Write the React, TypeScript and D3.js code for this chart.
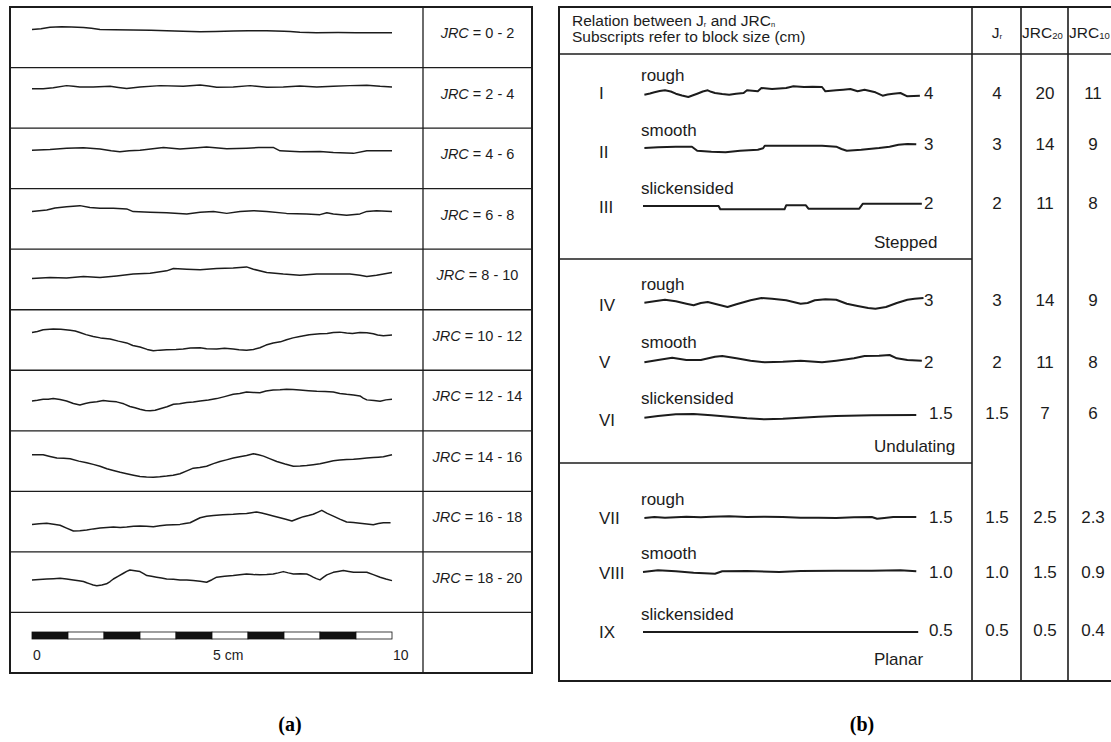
import React from "react";
import * as d3 from "d3";

// ---------- DATA ----------
// (a) Barton's standard JRC profiles: [distance along profile (mm), height (mm)]
const JRC_RANGES = ["0 - 2", "2 - 4", "4 - 6", "6 - 8", "8 - 10", "10 - 12", "12 - 14", "14 - 16", "16 - 18", "18 - 20"];

const P_0_2: [number, number][] = [[0,1.0],[2.5,1.2],[5,1.6],[8.2,1.75],[11,1.7],[14.3,1.5],[16.5,1.3],[18.9,1.0],[23,0.9],[28.1,0.8],[33,0.75],[37.4,0.65],[42,0.5],[46.7,0.35],[51,0.45],[55.9,0.55],[60,0.6],[65.2,0.65],[70,0.5],[71.7,0.4],[74.4,0.2],[79,0.1],[85,0.15],[90,0.1],[93,0.1],[100,0.1]];
const P_2_4: [number, number][] = [[0,1.3],[3.1,1.3],[5.9,1.6],[9.6,2.2],[11.5,2.05],[13.3,1.85],[17,1.85],[21.7,2.0],[24,1.7],[26.3,1.4],[30,1.85],[35.6,2.2],[42,2.0],[46.7,2.4],[49,2.1],[51.3,1.75],[55.9,1.85],[60.6,2.2],[65.2,1.75],[69.8,1.85],[74.4,2.1],[79.1,1.85],[83.7,2.0],[88.3,2.2],[93,2.3],[96.7,2.0],[100,1.85]];
const P_4_6: [number, number][] = [[0,1.1],[5,1.3],[9.6,1.6],[14.3,1.75],[18.9,1.4],[22,0.9],[24.4,0.65],[27,0.9],[30,1.1],[36.5,1.85],[41.1,1.4],[45,1.7],[48.5,2.0],[54.1,1.5],[59.6,1.65],[63,1.8],[67,1.85],[68.9,0.9],[74.4,0.65],[80,0.75],[83.7,0.45],[89.3,0.2],[93,0.9],[100,0.9]];
const P_6_8: [number, number][] = [[0,0.9],[4.1,1.3],[6.4,1.85],[9.6,2.2],[13.3,2.5],[16.1,2.0],[18.9,1.75],[22.6,1.75],[26.3,1.6],[28.1,0.85],[32.8,0.65],[37.4,0.55],[43,0.2],[46.7,0.65],[50.4,0.9],[54.1,0.35],[57.8,0.9],[61.5,1.1],[65.2,0.85],[70.7,0.35],[76.3,0.2],[80,0],[81.9,0.55],[83.7,0.2],[87.4,-0.2],[91.1,0.2],[93,0.9],[95.7,1.1],[100,0.9]];
const P_8_10: [number, number][] = [[0,-0.9],[5,-0.65],[9.6,-0.75],[14.3,-0.35],[18.9,-0.65],[23.5,-0.2],[28.1,0.3],[32.8,0.55],[37.4,1.2],[39.3,1.85],[43,1.65],[46.7,1.5],[51.3,1.85],[55.9,2.0],[59.6,2.3],[61.5,1.65],[65.2,0.75],[69.8,0.3],[74.4,0],[79.1,0.3],[83.7,0.3],[88.3,0.35],[91.1,0],[93,-0.35],[95.7,0],[100,0.75]];
const P_10_12: [number, number][] = [[0,0.9],[1.5,1.2],[3.1,1.65],[5.9,1.85],[8,1.8],[10.6,1.5],[12,1.3],[13.3,0.9],[15,0.3],[17,-0.2],[19,-0.6],[21.7,-0.9],[24,-1.5],[26.3,-2.0],[28,-2.7],[30,-3.15],[32,-3.8],[33.7,-4.15],[35.5,-4.0],[37.4,-3.9],[40,-3.85],[42,-3.7],[44,-3.4],[46.7,-3.35],[48.5,-3.6],[51.3,-3.7],[53.5,-3.5],[55.9,-3.7],[57.5,-3.9],[59.6,-4.05],[61.5,-3.8],[63.3,-3.35],[65,-2.6],[67,-2.0],[69,-1.7],[70.7,-1.1],[72.5,-0.6],[74.4,-0.2],[77,0.3],[80,0.55],[82,0.6],[83.7,0.9],[85.5,1.0],[87.4,0.75],[89,0.6],[91.1,0.9],[93,0.85],[94.8,0.55],[96,0.2],[97.6,0],[100,0.2]];
const P_12_14: [number, number][] = [[0,-1.3],[1.5,-1.1],[3.1,-0.85],[4.5,-0.8],[5.9,-0.65],[7.8,-0.9],[9.6,-1.3],[11.5,-2.0],[13.3,-2.4],[14.8,-2.0],[16.1,-1.75],[18,-1.5],[19.8,-1.2],[21.5,-1.35],[23.5,-1.55],[25.5,-2.1],[27.2,-2.85],[28.6,-3.2],[30,-3.6],[31.5,-3.95],[32.8,-4.05],[34.2,-3.9],[35.6,-3.45],[37.5,-2.9],[39.3,-2.2],[41,-2.1],[43,-1.75],[44.8,-1.6],[46.7,-1.3],[49,-1.05],[51.3,-0.65],[53.5,-0.1],[55.9,0.55],[57.7,0.8],[59.6,1.2],[61.5,1.05],[63.3,1.0],[65,1.45],[67,1.75],[68.9,1.8],[70.7,1.95],[72.5,1.85],[74.4,1.75],[76.8,1.55],[79.1,1.4],[81.4,1.35],[83.7,1.2],[85.5,0.8],[87.4,0.55],[89.3,0.35],[91.1,0.1],[92,-0.5],[93,-1.0],[95,-1.2],[96.7,-1.4],[98.3,-1.0],[100,-0.85]];
const P_14_16: [number, number][] = [[0,0.55],[1.6,0.6],[3.1,0.55],[5,0.1],[6.9,-0.35],[8.8,-0.4],[10.6,-0.55],[13,-1.2],[15.2,-1.65],[17,-2.1],[18.9,-2.6],[20.8,-3.3],[22.6,-3.8],[24.5,-4.3],[26.3,-4.7],[28.2,-5.1],[30,-5.45],[31.8,-5.6],[33.7,-5.65],[35.5,-5.55],[37.4,-5.35],[39.2,-5.1],[41.1,-4.7],[43,-3.9],[44.8,-3.15],[46.6,-2.95],[48.5,-2.6],[50.4,-1.9],[52.2,-1.3],[54,-0.85],[55.9,-0.35],[57.7,0],[59.6,0.35],[61.5,0.85],[62.9,0.6],[64.3,0.2],[66,-0.5],[68,-1.3],[70.3,-2.0],[72.6,-2.6],[74.5,-2.55],[76.3,-2.4],[78.1,-2.2],[80,-1.95],[81.9,-1.5],[83.7,-1.1],[85.5,-0.9],[87.4,-0.75],[89.3,-0.7],[91.1,-0.55],[93,-0.35],[94.8,-0.2],[96.2,-0.1],[97.6,0],[100,0.55]];
const P_16_18: [number, number][] = [[0,-1.95],[2,-1.8],[4.1,-1.65],[6,-1.9],[7.8,-2.2],[9.6,-3.0],[11.5,-3.8],[13.3,-3.7],[15.2,-3.5],[17,-3.2],[18.9,-2.95],[20.8,-2.8],[22.6,-2.7],[24.5,-2.8],[26.3,-2.7],[28.2,-2.5],[30,-2.4],[31.8,-2.45],[33.7,-2.6],[35.5,-2.35],[37.4,-2.15],[39.3,-2.05],[41.1,-1.95],[42.5,-1.7],[43.9,-1.5],[45.3,-0.8],[46.7,-0.1],[48.5,0.3],[50.4,0.55],[53,0.7],[55.9,0.85],[57.7,1.0],[59.6,1.1],[61,1.3],[62.4,1.5],[63.8,1.2],[65.2,0.85],[67,0.4],[68.9,-0.1],[70.5,-0.55],[72.2,-1.0],[73.8,-0.4],[75.4,0.2],[76.8,0.5],[78.1,0.85],[79.3,1.4],[80.5,1.95],[82,1.1],[83.7,0.35],[85.5,-0.5],[87.4,-1.3],[89.3,-1.45],[91.1,-1.65],[93,-1.85],[94.8,-2.05],[96.2,-1.7],[97.6,-1.5],[99.6,-1.5]];
const P_18_20: [number, number][] = [[0,-0.55],[2,-0.45],[4.1,-0.3],[6,-0.2],[7.8,-0.1],[9.6,-0.3],[11.5,-0.55],[13,-0.8],[14.3,-1.0],[15.2,-1.35],[16.1,-1.65],[17,-1.95],[18,-2.15],[19.4,-1.95],[20.7,-1.65],[21.7,-1.0],[22.6,-0.3],[24,0.5],[25.4,1.3],[26.3,1.8],[27.2,2.2],[28.6,2.0],[30,1.75],[31,1.2],[31.9,0.65],[33.2,0.45],[34.6,0.2],[36,-0.05],[37.4,-0.3],[39.3,-0.4],[41.1,-0.55],[43,-0.6],[44.8,-0.75],[46.7,-0.9],[48.5,-1.2],[50,-0.5],[51.3,0.2],[53.5,0.45],[55.9,0.65],[57.7,0.85],[59.6,1.1],[61.5,0.95],[63.3,0.85],[65.2,0.95],[67,1.1],[68.4,1.4],[69.8,1.75],[71.2,1.4],[72.6,1.1],[74.5,1.15],[76.3,1.1],[77.2,0.7],[78.1,0.2],[79,-0.2],[80,-0.55],[81,0.2],[81.9,0.85],[82.8,1.2],[83.7,1.55],[85,1.8],[86.5,2.05],[88,1.8],[89.3,1.55],[91.1,1.6],[93,1.55],[94.8,0.9],[96.7,0.2],[98.3,-0.3],[100,-0.75]];
const JRC_PROFILES = [P_0_2, P_2_4, P_4_6, P_6_8, P_8_10, P_10_12, P_12_14, P_14_16, P_16_18, P_18_20];

const SCALE_SEGMENTS = [0, 1, 2, 3, 4, 5, 6, 7, 8, 9]; // cm
const SCALE_TICKS = [0, 5, 10];
const SCALE_TICK_LABELS = ["0", "5 cm", "10"];

// (b) Jr vs JRC table
const CLASSES = ["I", "II", "III", "IV", "V", "VI", "VII", "VIII", "IX"];
const SURFACES = ["rough", "smooth", "slickensided", "rough", "smooth", "slickensided", "rough", "smooth", "slickensided"];
const JR = ["4", "3", "2", "3", "2", "1.5", "1.5", "1.0", "0.5"];
const JRC20 = ["20", "14", "11", "14", "11", "7", "2.5", "1.5", "0.5"];
const JRC10 = ["11", "9", "8", "9", "8", "6", "2.3", "0.9", "0.4"];
const GROUPS = ["Stepped", "Undulating", "Planar"];

const R_I: [number, number][] = [[0.5,-1.7],[2.5,-0.5],[4.1,0.7],[6,2.0],[7.9,2.7],[10,1.5],[11.8,-0.7],[14,-2.5],[16.3,-4.0],[18,-2.3],[19.5,-0.7],[21.5,1.5],[23.3,2.7],[24.5,1.2],[25.9,0],[28.5,-1.0],[31,-1.7],[33.5,-0.7],[36.2,0],[37.4,2.7],[41.3,1.7],[42.6,5.0],[46.4,4.0],[49,4.5],[51.5,5.0],[54.1,6.7],[57.9,6.0],[61,6.3],[64.4,6.0],[65.6,1.7],[69.5,2.7],[72,3.3],[74.6,4.0],[77.2,1.7],[79.7,3.3],[83.6,0.7],[86.2,-2.7],[88,-1.5],[90,-0.7],[92.6,0],[95.1,-3.3],[99.6,-2.7]];
const R_II: [number, number][] = [[0.5,0],[5.4,0.7],[11.8,1.3],[17.6,1.3],[19.5,-2.7],[24.6,-3.7],[29.7,-4.3],[34.9,-2.7],[41.3,-1.7],[43.2,-0.3],[43.8,2.3],[56.7,2.3],[64.4,2.3],[69.5,1.3],[71.4,-1.0],[73.3,-2.7],[78.5,-1.7],[84.9,0],[88.7,1.3],[91.9,3.3],[95.1,4.0],[98.3,3.7]];
const R_III: [number, number][] = [[0,0],[27.2,0],[27.8,-3.3],[50.9,-3.3],[51.5,0.7],[58.6,0.7],[59.5,-2.7],[77.8,-2.7],[79.1,2.3],[100.3,2.3]];
const R_IV: [number, number][] = [[0.5,-0.7],[4.1,0.7],[7.9,2.3],[11.8,0.7],[15.6,-1.7],[18.2,-3.3],[20.8,-1.0],[23.3,0],[27.2,-2.7],[30.4,-5.0],[33.6,-2.3],[38.7,1.7],[42.6,4.0],[46.4,3.3],[51.5,1.7],[56.7,-1.7],[59.2,-1.0],[61.8,1.7],[65.6,2.7],[69.5,2.3],[73.3,-1.7],[77.2,-4.0],[81,-6.0],[83.6,-6.7],[87.4,-5.0],[91.3,-1.0],[95.1,2.3],[97.7,3.3],[100.9,4.0]];
const R_V: [number, number][] = [[0.5,-2.3],[5.4,0],[10.5,2.3],[15.6,0],[20.8,0],[25.9,3.3],[28.5,4.0],[33.6,1.7],[38.7,-0.7],[43.8,-2.3],[50.3,-1.7],[56.7,-0.7],[64.4,-2.3],[69.5,-0.7],[75.9,1.7],[79.7,4.0],[84.9,4.3],[88.7,5.0],[91.3,1.7],[95.1,0],[100.3,-0.7]];
const R_VI: [number, number][] = [[0.5,-1.7],[5.4,0],[11.8,1.7],[18.2,2.0],[24.6,0.7],[31,-0.7],[37.4,-2.3],[43.8,-3.3],[50.3,-2.7],[56.7,-1.7],[63.1,-0.7],[69.5,0],[82.3,0.7],[98.3,1.0]];
const R_VII: [number, number][] = [[0.5,-1],[4.1,0],[7.9,-0.7],[11.8,-0.3],[15.6,0.3],[20.8,-0.3],[24.6,0.3],[31,0.7],[37.4,0],[43.8,0.3],[50.3,0],[56.7,-0.7],[63.1,-0.7],[69.5,-1],[75.9,-0.3],[82.3,0],[84.2,-1.7],[86.8,-1],[90,0],[98.3,0]];
const R_VIII: [number, number][] = [[0,-1],[5.4,0.7],[11.8,-0.3],[18.2,-1.7],[25.9,-2.7],[28.5,-0.3],[37.4,0],[49,-1],[56.7,0],[69.5,0.3],[82.3,0.3],[92.6,0.7],[98.3,-0.3]];
const R_IX: [number, number][] = [[0,0],[99,0]];
const R_PROFILES = [R_I, R_II, R_III, R_IV, R_V, R_VI, R_VII, R_VIII, R_IX];

// ---------- LAYOUT ----------
const W = 1111, H = 742;
const FONT = "'Liberation Sans', Arial, Helvetica, sans-serif";
const SERIF = "'Liberation Serif', 'Times New Roman', serif";
const INK = "#1c1c1c";

const L = { x0: 10, x1: 532, y0: 7, y1: 673, div: 423, px0: 32, px1: 392 };
const R = { x0: 559, x1: 1122, y0: 7, y1: 681, head: 54, cols: [972, 1021, 1068], sec: [259, 463] };
const R_PROFILE_Y = [93, 148, 206, 302, 360, 416, 517, 571, 632];
const R_NUM_Y = [93, 152, 207, 305, 362, 420, 518, 573, 632];
const R_VAL_Y = [93, 144, 203, 300, 362, 413, 517, 572, 630];
const GROUP_Y = [243, 447, 660];

export default function App() {
  const rowH = (L.y1 - L.y0) / 11;
  const xL = d3.scaleLinear().domain([0, 100]).range([L.px0, L.px1]);
  const xBar = d3.scaleLinear().domain([0, 10]).range([L.px0, L.px1]);
  const xR = d3.scaleLinear().domain([0, 100]).range([643, 921]);

  const leftRows = JRC_PROFILES.map((pts, i) => {
    const top = L.y0 + i * rowH;
    const base = top + 26;
    const y = d3.scaleLinear().domain([-1, 1]).range([base + 3.6, base - 3.6]);
    const line = d3.line<[number, number]>().x(d => xL(d[0])).y(d => y(d[1]));
    return { top, base, path: line(pts) || "" };
  });

  const rightRows = R_PROFILES.map((pts, i) => {
    const base = R_PROFILE_Y[i];
    const y = d3.scaleLinear().domain([-1, 1]).range([base + 1, base - 1]);
    const line = d3.line<[number, number]>().x(d => xR(d[0])).y(d => y(d[1]));
    return line(pts) || "";
  });

  const scaleTop = L.y0 + 10 * rowH;
  const colCenters = [997, 1045, 1093];

  return (
    <svg width={W} height={H} style={{ position: "absolute", left: 0, top: 0, background: "#fff" }} fontFamily={FONT}>
      <rect x={0} y={0} width={W} height={H} fill="#fff" />
      {/* ---------- (a) ---------- */}
      <g>
        {leftRows.map((r, i) => (
          <g key={i}>
            {i > 0 && <line x1={L.x0} x2={L.x1} y1={r.top} y2={r.top} stroke={INK} strokeWidth={1.3} />}
            <path d={r.path} fill="none" stroke={INK} strokeWidth={1.5} strokeLinejoin="round" />
            <text x={(L.div + L.x1) / 2} y={r.base + 5} textAnchor="middle" fontSize={14.5} fill={INK}>
              <tspan fontStyle="italic">JRC</tspan>{` = ${JRC_RANGES[i]}`}
            </text>
          </g>
        ))}
        <line x1={L.x0} x2={L.x1} y1={scaleTop} y2={scaleTop} stroke={INK} strokeWidth={1.3} />
        {SCALE_SEGMENTS.map((s) => (
          <rect key={s} x={xBar(s)} y={632} width={xBar(s + 1) - xBar(s)} height={7}
            fill={s % 2 === 0 ? "#111" : "#fff"} stroke="#111" strokeWidth={0.8} />
        ))}
        {SCALE_TICKS.map((t, i) => (
          <text key={t} x={xBar(t) + 1} y={660} fontSize={14} fill={INK}>{SCALE_TICK_LABELS[i]}</text>
        ))}
        <line x1={L.div} x2={L.div} y1={L.y0} y2={L.y1} stroke={INK} strokeWidth={1.3} />
        <rect x={L.x0} y={L.y0} width={L.x1 - L.x0} height={L.y1 - L.y0} fill="none" stroke={INK} strokeWidth={2} />
      </g>

      {/* ---------- (b) ---------- */}
      <g>
        <line x1={R.x0} x2={R.x1} y1={R.head} y2={R.head} stroke={INK} strokeWidth={1.6} />
        {R.sec.map((s) => (
          <line key={s} x1={R.x0} x2={R.cols[0]} y1={s} y2={s} stroke={INK} strokeWidth={1.6} />
        ))}
        {R.cols.map((c) => (
          <line key={c} x1={c} x2={c} y1={R.y0} y2={R.y1} stroke={INK} strokeWidth={1.6} />
        ))}
        <rect x={R.x0} y={R.y0} width={R.x1 - R.x0} height={R.y1 - R.y0} fill="none" stroke={INK} strokeWidth={2} />

        <text x={572} y={26} fontSize={15.5} fill={INK}>
          Relation between J<tspan fontSize={7.5} dy={1}>r</tspan><tspan dy={-1}> and JRC</tspan><tspan fontSize={7.5} dy={1}>n</tspan>
        </text>
        <text x={572} y={42} fontSize={15.5} fill={INK}>Subscripts refer to block size (cm)</text>

        <text x={colCenters[0]} y={38} textAnchor="middle" fontSize={15.5} fill={INK}>
          J<tspan fontSize={8} dy={1}>r</tspan>
        </text>
        <text x={1022} y={38} fontSize={15.5} fill={INK}>
          JRC<tspan fontSize={9.5} dy={1}>20</tspan>
        </text>
        <text x={1069} y={38} fontSize={15.5} fill={INK}>
          JRC<tspan fontSize={9.5} dy={1}>10</tspan>
        </text>

        {CLASSES.map((c, i) => (
          <g key={c}>
            <text x={599} y={R_NUM_Y[i] + 6} fontSize={17} fill={INK}>{c}</text>
            <text x={641} y={R_PROFILE_Y[i] - 12} fontSize={17} fill={INK}>{SURFACES[i]}</text>
            <path d={rightRows[i]} fill="none" stroke={INK} strokeWidth={2} strokeLinejoin="round" />
            <text x={JR[i].length > 1 ? 929 : 924} y={R_VAL_Y[i] + 6} fontSize={17} fill={INK}>{JR[i]}</text>
            <text x={colCenters[0]} y={R_VAL_Y[i] + 6} textAnchor="middle" fontSize={17} fill={INK}>{JR[i]}</text>
            <text x={colCenters[1]} y={R_VAL_Y[i] + 6} textAnchor="middle" fontSize={17} fill={INK}>{JRC20[i]}</text>
            <text x={colCenters[2]} y={R_VAL_Y[i] + 6} textAnchor="middle" fontSize={17} fill={INK}>{JRC10[i]}</text>
          </g>
        ))}
        {GROUPS.map((g, i) => (
          <text key={g} x={874} y={GROUP_Y[i] + 5} fontSize={17} fill={INK}>{g}</text>
        ))}
      </g>

      {/* captions */}
      <text x={290} y={731} textAnchor="middle" fontSize={20} fontWeight="bold" fontFamily={SERIF} fill="#000">(a)</text>
      <text x={862} y={731} textAnchor="middle" fontSize={20} fontWeight="bold" fontFamily={SERIF} fill="#000">(b)</text>
    </svg>
  );
}
